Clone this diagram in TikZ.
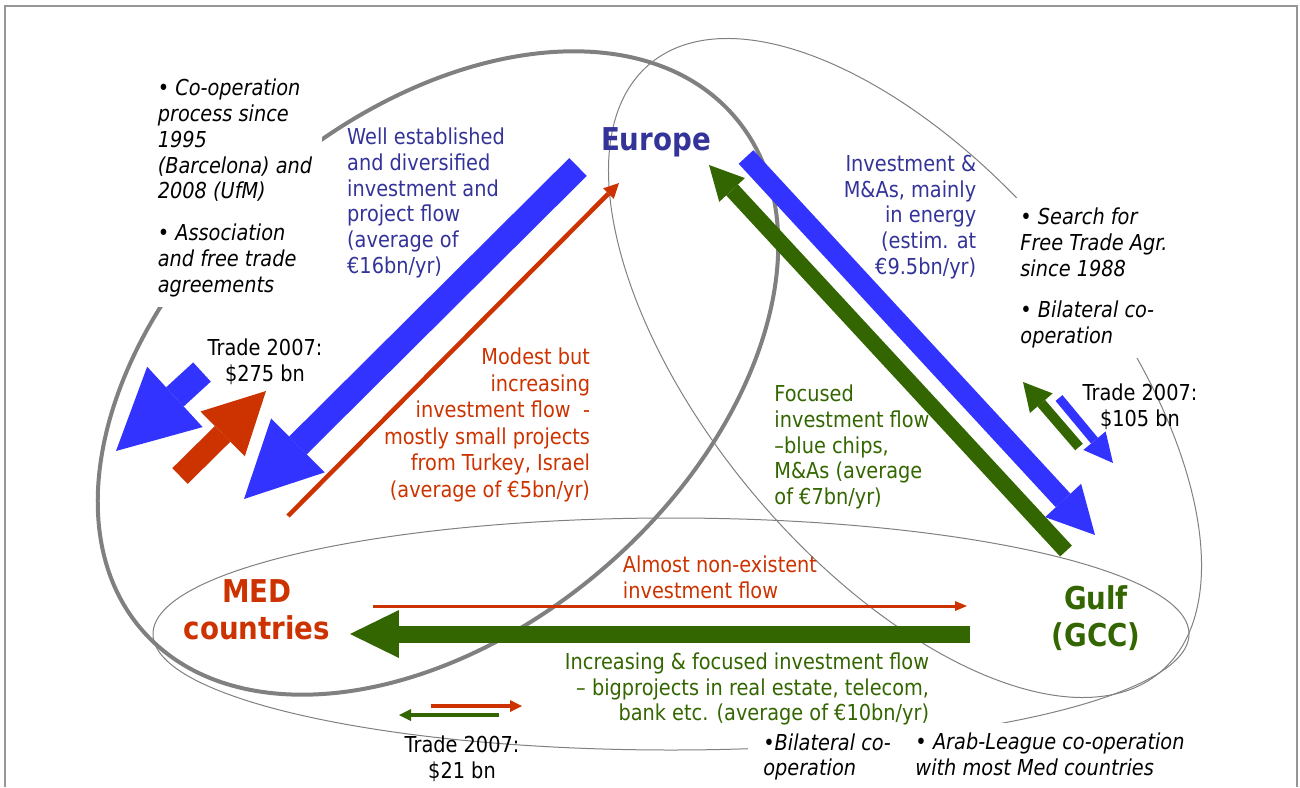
\documentclass[tikz,border=0pt]{standalone}
\usepackage{fontspec}
\setmainfont{DejaVu Sans}[FakeStretch=0.88]
\usetikzlibrary{arrows.meta}

\definecolor{arrowblue}{RGB}{51,51,255}
\definecolor{arrowred}{RGB}{204,51,0}
\definecolor{arrowgreen}{RGB}{51,102,0}
\definecolor{textblue}{RGB}{51,51,153}
\definecolor{textgreen}{RGB}{51,102,0}
\definecolor{ringgray}{RGB}{128,128,128}
\definecolor{framegray}{RGB}{150,150,150}

\tikzset{
  ring/.style={draw=ringgray, line width=0.02cm},
  thickring/.style={draw=ringgray, line width=0.08cm},
  note/.style={fill=white, inner sep=0.2cm, align=left, font=\fontsize{12.5}{14.7}\selectfont\itshape},
  flowtext/.style={inner sep=0pt, font=\fontsize{12.5}{14.7}\selectfont},
  region/.style={inner sep=0pt, align=center, font=\fontsize{17.9}{20.8}\selectfont\bfseries},
  flow/.style n args={4}{#1, line width=#2, -{Triangle[width=#3, length=#4, line width=0pt]}},
}

\begin{document}
\begin{tikzpicture}[x=0.02cm, y=-0.02cm]
\useasboundingbox (0,0) rectangle (1300,787);

\draw[framegray, line width=0.04cm] (5,787) -- (5,6) -- (1297,6) -- (1297,787);

\draw[thickring, rotate around={41:(438,373)}] (438,373) ellipse [x radius=392, y radius=256];
\draw[ring, rotate around={-50:(905,368)}] (905,368) ellipse [x radius=397, y radius=197];
\draw[ring] (671,634) ellipse [x radius=518, y radius=116];

\node[note] (medNote) at (235,188) {• Co-operation\\process since\\1995\\(Barcelona) and\\2008 (UfM)\\[0.32cm]• Association\\and free trade\\agreements};
\node[note] (gulfNote) at (1094,278) {• Search for\\Free Trade Agr.\\since 1988\\[0.32cm]• Bilateral co-\\operation};
\node[note, inner xsep=0.3cm] (gccNote) at (827,757) {•Bilateral co-\\operation};
\node[note, inner xsep=0.3cm] (arabNote) at (1050,754) {• Arab-League co-operation\\with most Med countries};

\coordinate (euA) at (578,167);
\coordinate (medA) at (244,499);
\coordinate (medB) at (288,516);
\coordinate (euB) at (619,183);
\coordinate (gulfA) at (1066,551);
\coordinate (euC) at (709,165);
\coordinate (euD) at (746,157);
\coordinate (gulfB) at (1095,535);
\coordinate (gulfC) at (970,634);
\coordinate (medC) at (350,634);
\coordinate (medD) at (373,606);
\coordinate (gulfD) at (967,606);

\coordinate (tmA1) at (202,372);
\coordinate (tmA2) at (116,451);
\coordinate (tmB1) at (180,476);
\coordinate (tmB2) at (266,391);
\coordinate (tgA1) at (1079,447);
\coordinate (tgA2) at (1023,382);
\coordinate (tgB1) at (1059,398);
\coordinate (tgB2) at (1113,463);
\coordinate (tbA1) at (431,706);
\coordinate (tbA2) at (522,706);
\coordinate (tbB1) at (499,715);
\coordinate (tbB2) at (399,715);

\draw[flow={arrowblue}{0.5cm}{1.52cm}{1.52cm}] (euA) -- (medA);
\draw[flow={arrowred}{0.09cm}{0.3cm}{0.3cm}] (medB) -- (euB);
\draw[flow={arrowgreen}{0.32cm}{0.7cm}{0.68cm}] (gulfA) -- (euC);
\draw[flow={arrowblue}{0.4cm}{0.98cm}{0.94cm}] (euD) -- (gulfB);
\draw[flow={arrowgreen}{0.34cm}{0.96cm}{0.98cm}] (gulfC) -- (medC);
\draw[flow={arrowred}{0.06cm}{0.2cm}{0.24cm}] (medD) -- (gulfD);

\draw[flow={arrowblue}{0.52cm}{1.64cm}{1.6cm}] (tmA1) -- (tmA2);
\draw[flow={arrowred}{0.44cm}{1.26cm}{1.22cm}] (tmB1) -- (tmB2);
\draw[flow={arrowgreen}{0.2cm}{0.6cm}{0.56cm}] (tgA1) -- (tgA2);
\draw[flow={arrowblue}{0.18cm}{0.58cm}{0.58cm}] (tgB1) -- (tgB2);
\draw[flow={arrowred}{0.09cm}{0.24cm}{0.24cm}] (tbA1) -- (tbA2);
\draw[flow={arrowgreen}{0.09cm}{0.24cm}{0.24cm}] (tbB1) -- (tbB2);

\node[flowtext, textblue, align=left] (euMedText) at (426,203) {Well established\\and diversified\\investment and\\project flow\\(average of\\€16bn/yr)};
\node[flowtext, textblue, align=right] (euGulfText) at (910,217) {Investment \&\\M\&As, mainly\\in energy\\(estim. at\\€9.5bn/yr)};
\node[flowtext, arrowred, align=right, font=\fontsize{12.5}{15.1}\selectfont] (medEuText) at (487,425) {Modest but\\increasing\\investment flow\ \ -\\mostly small projects\\from Turkey, Israel\\(average of €5bn/yr)};
\node[flowtext, textgreen, align=left] (gulfEuText) at (852,447) {Focused\\investment flow\\–blue chips,\\M\&As (average\\of €7bn/yr)};
\node[flowtext, arrowred, align=left] (medGulfText) at (720,577) {Almost non-existent\\investment flow};
\node[flowtext, textgreen, align=right] (gulfMedText) at (747,689) {Increasing \& focused investment flow\\– bigprojects in real estate, telecom,\\bank etc. (average of €10bn/yr)};

\node[flowtext, align=center] (tradeMed) at (265,362) {Trade 2007:\\\$275 bn};
\node[flowtext, align=center] (tradeGulf) at (1140,407) {Trade 2007:\\\$105 bn};
\node[flowtext, align=center] (tradeBoth) at (462,759) {Trade 2007:\\\$21 bn};

\node[region, textblue] (europe) at (656,142) {Europe};
\node[region, arrowred] (med) at (257,610) {MED\\countries};
\node[region, arrowgreen] (gulf) at (1096,618) {Gulf\\(GCC)};

\end{tikzpicture}
\end{document}
